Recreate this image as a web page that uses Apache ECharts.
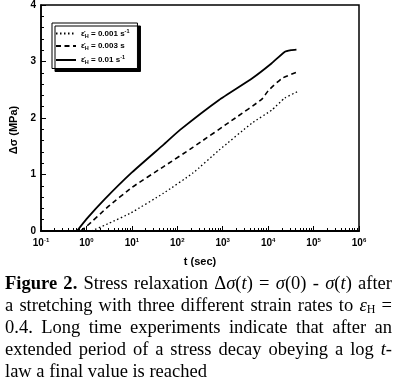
<!DOCTYPE html>
<html><head><meta charset="utf-8">
<script src="https://cdn.jsdelivr.net/npm/echarts@6/dist/echarts.min.js"></script>
<style>html,body{margin:0;padding:0;background:#fff}#c{width:395px;height:382px}</style>
</head><body><div id="c"></div>
<script>
// ---- data ----
const seriesNames = ['0.001', '0.003', '0.01'];
const t001 = [1.3, 3.2, 9.5, 50, 224, 830, 4400, 12000, 23000, 45000];
const s001 = [0, 0.14, 0.32, 0.67, 1.03, 1.43, 1.91, 2.14, 2.35, 2.47];
const t003 = [0.75, 1.0, 3.0, 10, 50, 220, 1900, 7200, 10000, 20000, 45000];
const s003 = [0, 0.08, 0.43, 0.77, 1.14, 1.48, 2.0, 2.33, 2.48, 2.70, 2.82];
const t01 = [0.62, 1.0, 2.5, 9.5, 50, 115, 830, 4400, 12000, 23000, 32000, 42000];
const s01 = [0, 0.21, 0.56, 1.02, 1.53, 1.79, 2.32, 2.70, 2.97, 3.17, 3.20, 3.21];
const yTicks = [0, 1, 2, 3, 4];
const xMin = 0.1, xMax = 1e6;
const xName = 't (sec)';
const yName = 'Δσ (MPa)';
const captionLines = [
  '{b|Figure} {b|2.} Stress relaxation Δ{i|σ}({i|t}) = {i|σ}(0) - {i|σ}({i|t}) after',
  'a stretching with three different strain rates to {i|ε}{sub|H} =',
  '0.4. Long time experiments indicate that after an',
  'extended period of a stress decay obeying a log {i|t}-',
  'law a final value is reached'
];
// log minor tick positions (2..9 x 10^k)
const minorTickValues = [];
for (let k = -1; k < 6; k++) for (let m = 2; m <= 9; m++) minorTickValues.push(+(m * Math.pow(10, k)).toPrecision(3));

const zip = (a, b) => a.map((v, i) => [v, b[i]]);
const SANS = '"Liberation Sans", Arial, sans-serif';
const SERIF = '"Liberation Serif", "Times New Roman", serif';

const chart = echarts.init(document.getElementById('c'), null, {renderer: 'canvas'});

// ---- caption (justified) ----
const FS = 18.5;
const SUBFS = 12;
const fonts = {
  n: FS + 'px ' + SERIF,
  b: 'bold ' + FS + 'px ' + SERIF,
  i: 'italic ' + FS + 'px ' + SERIF,
  sub: SUBFS + 'px ' + SERIF
};
const ctx = document.createElement('canvas').getContext('2d');
function measureWord(w) {
  let total = 0;
  const re = /\{(\w+)\|([^}]*)\}|([^{]+)/g;
  let m;
  while ((m = re.exec(w))) {
    const style = m[1] || 'n';
    const txt = m[1] ? m[2] : m[3];
    ctx.font = fonts[style];
    total += ctx.measureText(txt).width;
  }
  return total;
}
ctx.font = fonts.n;
const spaceW = ctx.measureText(' ').width;
const lastWords = captionLines[4].split(' ');
const lastNatural = lastWords.reduce((s, w) => s + measureWord(w), 0) + spaceW * (lastWords.length - 1);
const sc = 202 / lastNatural;
const leftX = 5, rightX = 392;
const W = (rightX - leftX) / sc;
const rich = {
  b: {fontWeight: 'bold', fontSize: FS, fontFamily: SERIF, fill: '#000'},
  i: {fontStyle: 'italic', fontSize: FS, fontFamily: SERIF, fill: '#000'},
  sub: {fontSize: SUBFS, fontFamily: SERIF, fill: '#000', padding: [7, 0, 0, 0]}
};
const lineY = [284, 306, 328, 350, 372];
const graphics = captionLines.map((line, li) => {
  const words = line.split(' ');
  let text;
  if (li < 4) {
    const natural = words.reduce((s, w) => s + measureWord(w), 0);
    const gap = (W - natural) / (words.length - 1);
    rich['g' + li] = {width: gap, fontSize: FS, fontFamily: SERIF};
    text = words.join('{g' + li + '| }');
  } else {
    text = line;
  }
  return {
    type: 'text', x: leftX, y: lineY[li], scaleX: sc,
    style: {text: text, fontSize: FS, fontFamily: SERIF, fill: '#000', verticalAlign: 'middle', rich: rich}
  };
});

const legendText = {
  '0.001': '{e|ε̇}{sub|H} = 0.001 s{sup|-1}',
  '0.003': '{e|ε̇}{sub|H} = 0.003 s',
  '0.01': '{e|ε̇}{sub|H} = 0.01 s{sup|-1}'
};

const option = {
  animation: false,
  backgroundColor: '#fff',
  grid: {left: 35, right: 36, top: 5, bottom: 151, show: true, borderColor: '#000', borderWidth: 1.5},
  legend: {
    data: seriesNames, orient: 'vertical', left: 52, top: 23,
    padding: [5, 8, 3, 3], itemGap: 3, itemWidth: 20, itemHeight: 10,
    backgroundColor: '#fff', borderColor: '#000', borderWidth: 1,
    shadowColor: '#000', shadowOffsetX: 3, shadowOffsetY: 3, shadowBlur: 0.01,
    itemStyle: {color: 'rgba(0,0,0,0)', borderWidth: 0, opacity: 0},
    formatter: n => legendText[n],
    textStyle: {
      fontSize: 8, fontWeight: 'bold', fontFamily: SANS, color: '#000',
      rich: {
        e: {fontSize: 8, fontWeight: 'bold', fontFamily: SANS},
        sub: {fontSize: 5.5, fontWeight: 'bold', padding: [5, 0, 0, 0]},
        sup: {fontSize: 5.5, fontWeight: 'bold', padding: [0, 0, 5, 0]}
      }
    }
  },
  xAxis: [{
    type: 'log', logBase: 10, min: xMin, max: xMax, splitNumber: 7,
    name: xName, nameLocation: 'middle', nameGap: 25,
    nameTextStyle: {fontSize: 11, fontWeight: 'bold', fontFamily: SANS, color: '#000'},
    axisLine: {lineStyle: {color: '#000', width: 2}},
    axisTick: {inside: true, length: 5, lineStyle: {color: '#000', width: 1}},
    splitLine: {show: false},
    axisLabel: {
      margin: 6, color: '#000', fontSize: 10, fontWeight: 'bold', fontFamily: SANS,
      formatter: v => '10{sup|' + Math.round(Math.log10(v)) + '}',
      rich: {sup: {fontSize: 6, fontWeight: 'bold', fontFamily: SANS, padding: [0, 0, 6, 0]}}
    }
  }, {
    type: 'log', logBase: 10, min: xMin, max: xMax, position: 'bottom',
    axisLine: {show: false},
    axisTick: {show: true, inside: true, length: 3, customValues: minorTickValues, lineStyle: {color: '#000', width: 1}},
    axisLabel: {show: false},
    splitLine: {show: false}
  }],
  yAxis: {
    type: 'value', min: yTicks[0], max: yTicks[yTicks.length - 1], interval: 1,
    name: yName, nameLocation: 'middle', nameGap: 22, nameRotate: 90,
    nameTextStyle: {fontSize: 11, fontWeight: 'bold', fontFamily: SANS, color: '#000', padding: [0, 24, 0, 0]},
    axisLine: {lineStyle: {color: '#000', width: 1.5}},
    axisTick: {inside: true, length: 5, lineStyle: {color: '#000', width: 1}},
    minorTick: {show: true, splitNumber: 5, length: 3, lineStyle: {color: '#000', width: 1}},
    splitLine: {show: false},
    axisLabel: {margin: 5, color: '#000', fontSize: 10, fontWeight: 'bold', fontFamily: SANS}
  },
  series: [
    {name: '0.001', type: 'line', data: zip(t001, s001), symbol: 'none', smooth: 0.15,
     lineStyle: {color: '#000', width: 1.3, type: [1.5, 2.5]}, itemStyle: {color: '#000'}},
    {name: '0.003', type: 'line', data: zip(t003, s003), symbol: 'none', smooth: 0.15,
     lineStyle: {color: '#000', width: 1.6, type: [5, 3.5]}, itemStyle: {color: '#000'}},
    {name: '0.01', type: 'line', data: zip(t01, s01), symbol: 'none', smooth: 0.15,
     lineStyle: {color: '#000', width: 1.8, type: 'solid'}, itemStyle: {color: '#000'}}
  ],
  graphic: graphics
};
chart.setOption(option);
</script></body></html>
